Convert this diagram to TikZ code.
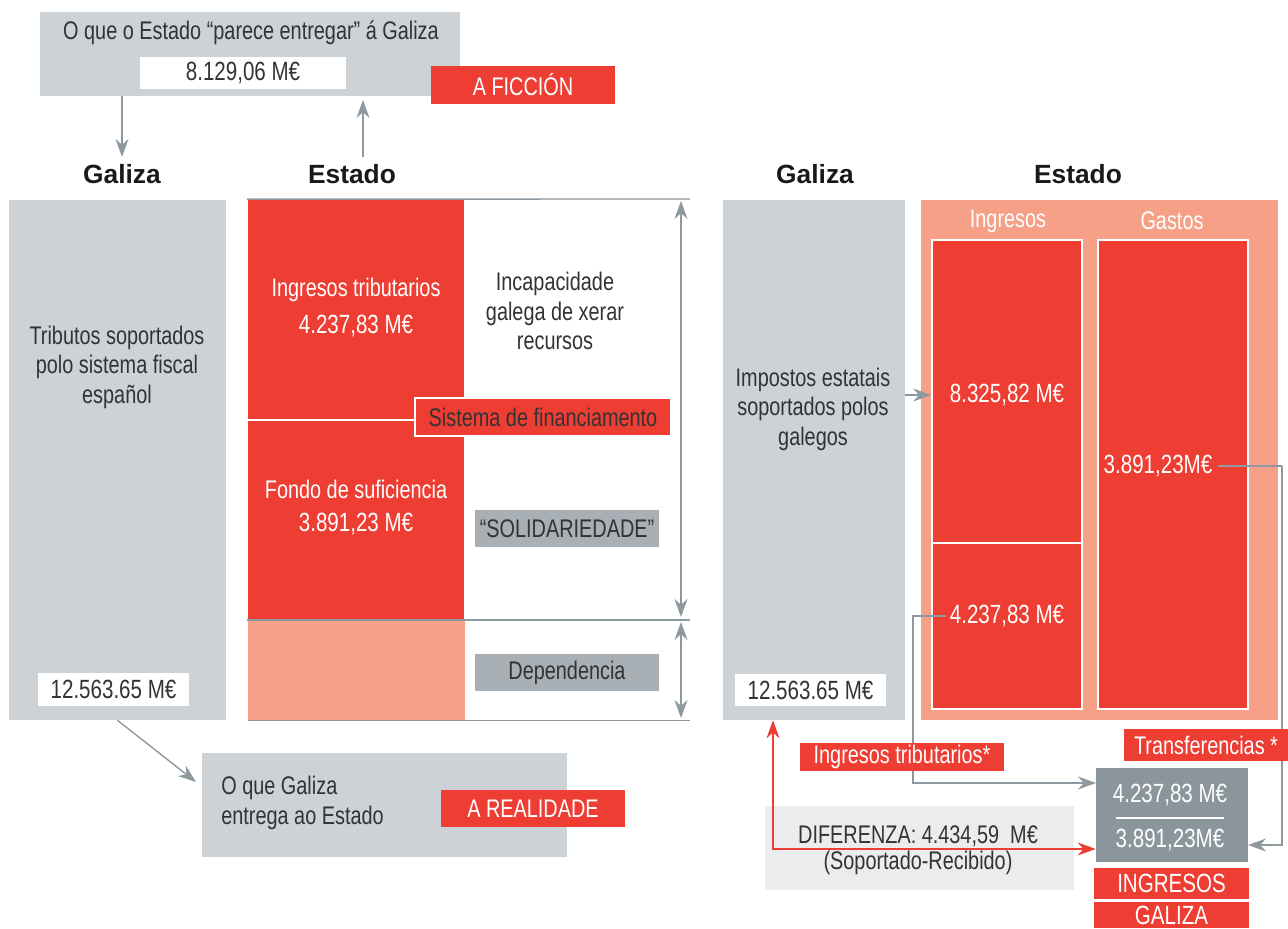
\documentclass[tikz,border=0pt]{standalone}
\usepackage{fontspec}
\setmainfont[FakeStretch=0.78]{Liberation Sans}
\newfontfamily\headfont{Liberation Sans}
\usepackage{xcolor}
\usepackage{tikz}
\usetikzlibrary{arrows.meta,positioning,calc}

\definecolor{fred}{HTML}{EE3D33}
\definecolor{fsalmon}{HTML}{F6A088}
\definecolor{fgray}{HTML}{CDD2D6}
\definecolor{flabel}{HTML}{A8AFB5}
\definecolor{fdark}{HTML}{8A959C}
\definecolor{fpale}{HTML}{EBECEE}
\definecolor{fline}{HTML}{8E989F}
\definecolor{ftext}{HTML}{333333}

\begin{document}
\begin{tikzpicture}[
    x=0.02cm, y=-0.02cm,
    every node/.style={font=\fontsize{14.5}{16.8}\selectfont, text=ftext, inner sep=0pt},
    gbox/.style={rectangle, fill=fgray},
    valbox/.style={rectangle, fill=white, font=\fontsize{15}{18}\selectfont},
    redtag/.style={rectangle, fill=fred, text=white},
    greytag/.style={rectangle, fill=flabel},
    redblock/.style={rectangle, fill=fred, draw=white, line width=1pt},
    wtext/.style={text=white, align=center},
    numtext/.style={text=white, font=\fontsize{15}{18}\selectfont},
    head/.style={font=\headfont\fontsize{15}{18}\selectfont\bfseries, text=black!90, inner sep=4pt},
    gline/.style={draw=fline, line width=0.8pt},
    garrow/.style={-{Stealth[length=3.6mm,width=2.6mm]}, draw=fline, line width=0.8pt},
    darrow/.style={{Stealth[length=3.6mm,width=2.6mm]}-{Stealth[length=3.6mm,width=2.6mm]}, draw=fline, line width=0.8pt},
    rarrow/.style={{Stealth[length=3.6mm,width=2.6mm]}-{Stealth[length=3.6mm,width=2.6mm]}, draw=fred, line width=0.8pt}
]
\useasboundingbox (0,0) rectangle (1288,929);

% A ficcion
\node[gbox, minimum width=8.4cm, minimum height=1.68cm] (ficbox) at (250,54) {};
\node (fictitle) at (251,33) {O que o Estado “parece entregar” á Galiza};
\node[valbox, minimum width=4.12cm, minimum height=0.64cm] (ficval) at (243,73) {8.129,06 M€};
\node[redtag, minimum width=3.68cm, minimum height=0.76cm] (ficcion) at (523,85) {A FICCIÓN};

% Headings
\node[head] (galiza1) at (122,174) {Galiza};
\node[head] (estado1) at (352,174) {Estado};
\node[head] (galiza2) at (815,174) {Galiza};
\node[head] (estado2) at (1078,174) {Estado};

\coordinate (ficin) at (363,100);
\draw[garrow] (ficbox.south -| galiza1) -- (galiza1.north);
\draw[garrow] (estado1.north -| ficin) -- (ficin);

% Left: Galiza
\node[gbox, minimum width=4.34cm, minimum height=10.4cm] (galbox1) at (117.5,460) {};
\node[align=center] (galtext1) at (117,367) {Tributos soportados\\polo sistema fiscal\\español};
\node[valbox, minimum width=3.02cm, minimum height=0.66cm] (galval1) at (113.5,689.5) {12.563.65 M€};

% Left: Estado
\node[redblock, draw=none, minimum width=4.32cm, minimum height=4.38cm] (tribut) at (356,309.5) {};
\node[redblock, draw=none, minimum width=4.32cm, minimum height=4.0cm] (fondo) at (356,519) {};
\node[rectangle, fill=fsalmon, minimum width=4.34cm, minimum height=2cm] (depblock) at (356.5,670) {};
\node[wtext] (tribtext) at (356,290) {Ingresos tributarios};
\node[numtext] (tribval) at (356,326) {4.237,83 M€};
\node[wtext] (fondotext) at (356,489) {Fondo de suficiencia};
\node[numtext] (fondoval) at (356,524) {3.891,23 M€};
\node[redblock, minimum width=5.12cm, minimum height=0.76cm] (sistema) at (543,417) {Sistema de financiamento};
\draw[white, line width=1pt] (tribut.south west) -- (sistema.west |- tribut.south);

\node[align=center] (incap) at (555,311) {Incapacidade\\galega de xerar\\recursos};
\node[greytag, minimum width=3.68cm, minimum height=0.74cm] (solid) at (567,528.5) {“SOLIDARIEDADE”};
\node[greytag, minimum width=3.68cm, minimum height=0.74cm] (depend) at (567,672.5) {Dependencia};

\coordinate (rtop) at (690,199);
\coordinate (vtop) at (681,201);
\coordinate (vmid1) at (681,617);
\coordinate (vmid2) at (681,622);
\coordinate (vbot) at (681,718);
\draw[gline] (tribut.north west) -- (rtop);
\draw[gline] (fondo.south west) -- (fondo.south west -| rtop);
\draw[gline] (depblock.south west) -- (depblock.south west -| rtop);
\draw[darrow] (vtop) -- (vmid1);
\draw[darrow] (vmid2) -- (vbot);

% A realidade
\node[gbox, minimum width=7.3cm, minimum height=2.08cm] (realbox) at (384.5,805) {};
\node[align=left, anchor=west] (realtext) at (221,803) {O que Galiza\\entrega ao Estado};
\node[redtag, minimum width=3.68cm, minimum height=0.74cm] (realidade) at (533,808.5) {A REALIDADE};
\coordinate (realin) at (196,782);
\draw[garrow] (galbox1.south) -- (realin);

% Right: Galiza
\node[gbox, minimum width=3.64cm, minimum height=10.4cm] (galbox2) at (814,460) {};
\node[align=center] (galtext2) at (813,409) {Impostos estatais\\soportados polos\\galegos};
\node[valbox, minimum width=3.02cm, minimum height=0.64cm] (galval2) at (810.5,690) {12.563.65 M€};

% Right: Estado
\node[rectangle, fill=fsalmon, minimum width=7.14cm, minimum height=10.4cm] (estbox) at (1099.5,460) {};
\node[wtext] (ingtitle) at (1008,221) {Ingresos};
\node[wtext] (gastitle) at (1172,221) {Gastos};
\node[redblock, minimum width=3cm, minimum height=9.38cm] (ingbox) at (1007,474.5) {};
\node[redblock, minimum width=3cm, minimum height=9.38cm] (gasbox) at (1173,474.5) {};
\coordinate (ingcut) at (932,543);
\draw[white, line width=1pt] (ingcut) -- (ingcut -| ingbox.east);
\node[numtext] (ingtop) at (1007,395) {8.325,82 M€};
\node[numtext] (ingbot) at (1007,616) {4.237,83 M€};
\node[numtext] (gasval) at (1158,466) {3.891,23M€};
\draw[garrow] (galbox2.east |- ingtop) -- (ingbox.west |- ingtop);

% Resultado
\node[rectangle, fill=fpale, minimum width=6.18cm, minimum height=1.68cm] (difbox) at (919.5,848) {};
\node (diftext) at (918,836) {DIFERENZA: 4.434,59~~M€};
\node (difnote) at (918,863) {(Soportado-Recibido)};
\node[rectangle, fill=fdark, minimum width=3.04cm, minimum height=1.88cm] (resbox) at (1172,815) {};
\node[numtext] (resval1) at (1170,795) {4.237,83 M€};
\node[numtext] (resval2) at (1170,840) {3.891,23M€};
\coordinate (resline) at (1116,818);
\draw[white, line width=0.8pt] (resline) -- ++(108,0);

\coordinate (gasturn) at (1282,466);
\coordinate (gasin) at (1248,845);
\coordinate (ingturn) at (913,616);
\coordinate (resin) at (1096,783);
\coordinate (difturn) at (773,849);
\draw[gline] ([xshift=3pt]gasval.east) -- (gasturn);
\draw[garrow] (gasturn) |- (gasin);
\draw[garrow] ([xshift=-2pt]ingbot.west) -- (ingturn) |- (resin);
\draw[rarrow] (galbox2.south -| difturn) -- (difturn) -- (resbox.west |- difturn);

\node[redtag, minimum width=4.08cm, minimum height=0.56cm] (ingtrib) at (902,757) {Ingresos tributarios*};
\node[redtag, minimum width=3.3cm, minimum height=0.64cm] (transf) at (1206,745) {Transferencias *};
\node[redtag, minimum width=3.1cm, minimum height=0.62cm, font=\fontsize{15}{18}\selectfont] (ingresos) at (1171.5,883.5) {INGRESOS};
\node[redtag, minimum width=3.1cm, minimum height=0.52cm, font=\fontsize{15}{18}\selectfont] (galiza3) at (1171.5,915) {GALIZA};

\end{tikzpicture}
\end{document}
